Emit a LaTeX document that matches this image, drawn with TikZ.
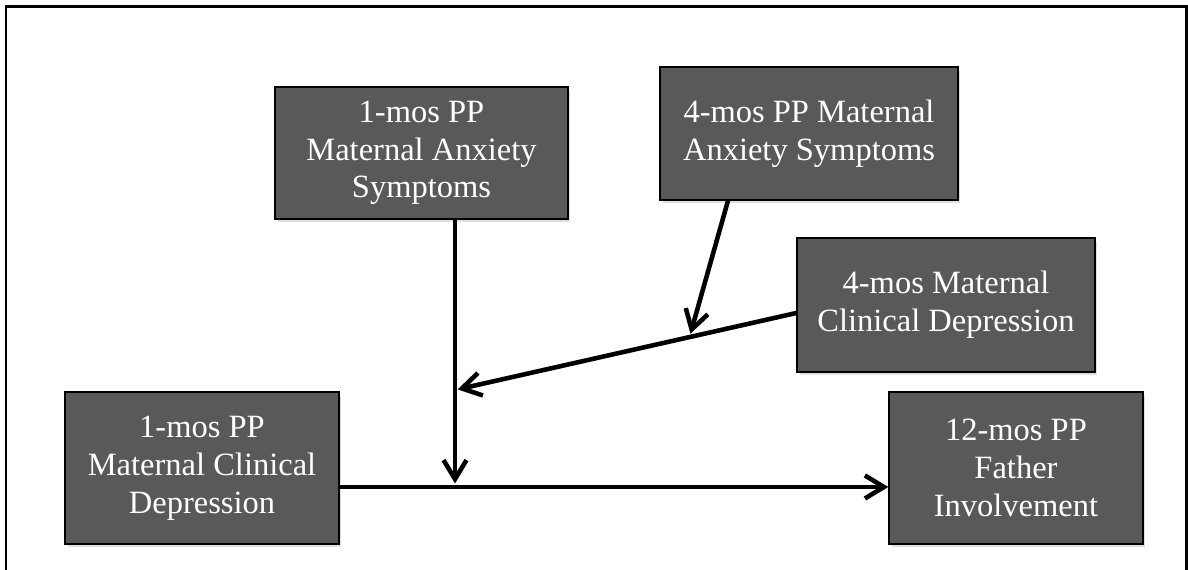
\documentclass[tikz,border=0pt]{standalone}
\usepackage{fontspec}
\setmainfont{Liberation Serif}
\usepackage{xcolor}
\usepackage{tikz}
\usetikzlibrary{arrows.meta,shadows,positioning,calc}
\definecolor{boxgray}{RGB}{89,89,89}

\begin{document}
\begin{tikzpicture}[
    x=0.02cm, y=-0.02cm,
    box/.style={rectangle, draw=black, line width=0.8pt, fill=boxgray, text=white, align=center,
        font=\fontsize{18.5}{21.5}\selectfont,
        drop shadow={opacity=0.25, shadow xshift=0.05cm, shadow yshift=-0.07cm}},
    arrow/.style={line width=2.6pt, -{Straight Barb[length=0.38cm, width=0.46cm, line width=2.6pt]}}
]
    \useasboundingbox (0,0) rectangle (1188,570);
    \draw[line width=1.7pt] (6,575) -- (6,7) -- (1186,7) -- (1186,575);

    \node[box, minimum width=5.86cm, minimum height=2.64cm] (anx1) at (421.5,153) {1-mos PP\\Maternal Anxiety\\Symptoms};
    \node[box, minimum width=5.96cm, minimum height=2.66cm] (anx4) at (809,133.5) {4-mos PP Maternal\\Anxiety Symptoms};
    \node[box, minimum width=5.96cm, minimum height=2.68cm] (dep4) at (946,305) {4-mos Maternal\\Clinical Depression};
    \node[box, minimum width=5.48cm, minimum height=3.04cm] (dep1) at (202,468) {1-mos PP\\Maternal Clinical\\Depression};
    \node[box, minimum width=5.08cm, minimum height=3.04cm] (father) at (1016,468) {12-mos PP\\Father\\Involvement};

    \coordinate (split) at (455,487);
    \coordinate (meet) at (455,390);
    \coordinate (dep4out) at ($(dep4.west)+(0,8)$);
    \coordinate (cross) at ($(dep4out)!0.313!(meet)$);

    \draw[arrow] (dep1.east |- split) -- (father.west |- split);
    \draw[arrow, shorten >=2pt] (anx1.south -| split) -- (split);
    \draw[arrow, shorten >=1.5pt] (dep4out) -- (meet);
    \draw[arrow, shorten >=2pt] (anx4.south -| 728,0) -- (cross);
\end{tikzpicture}
\end{document}
